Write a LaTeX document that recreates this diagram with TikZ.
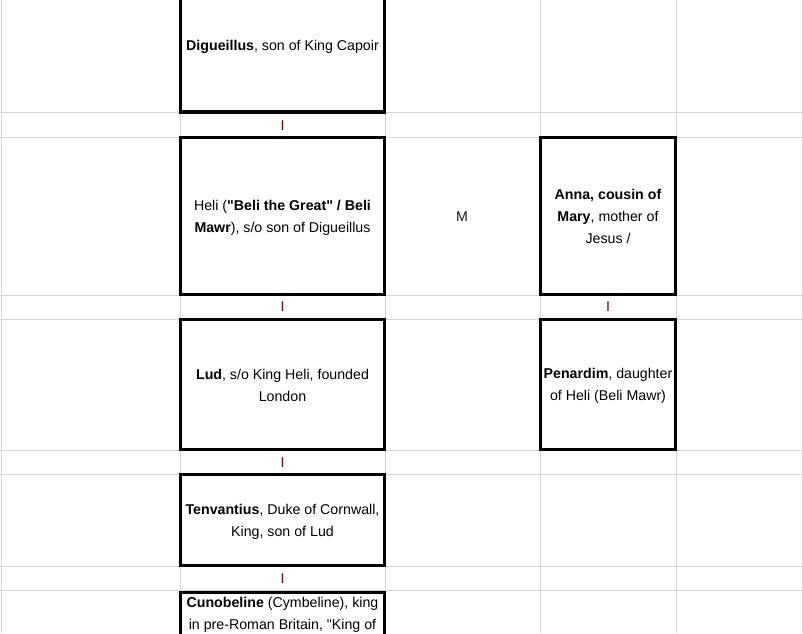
\documentclass[tikz,border=0pt]{standalone}
\usepackage{fontspec}
\setmainfont{Liberation Sans}
\usetikzlibrary{positioning}
\definecolor{gridgray}{RGB}{214,214,214}
\definecolor{barred}{RGB}{110,0,0}
\newcommand{\cellfont}{\fontsize{14.2}{22}\selectfont}
\tikzset{
  person/.style={draw,line width=3.2pt,fill=white,inner sep=0pt},
  wide/.style={minimum width=204pt},
  narrow/.style={minimum width=135pt},
  celltext/.style={align=center,inner sep=0pt,font=\cellfont},
  bar/.style={text=barred,font=\cellfont,inner sep=0pt},
}

\begin{document}
\begin{tikzpicture}[x=1pt,y=-1pt]
\useasboundingbox (0,0) rectangle (803,633);
% sheet grid
\foreach \gx in {1,180,385,540,676,802}
  \draw[gridgray,line width=1pt] (\gx,0) -- (\gx,633);
\foreach \gy in {112,137,295,319,450,474,566,590}
  \draw[gridgray,line width=1pt] (0,\gy) -- (803,\gy);
% left column
\node[person,wide,minimum height=134pt] (digueillus) at (282.5,45) {};
\node[celltext] (digueillus text) at ([yshift=-2pt]digueillus.center) {\textbf{Digueillus}, son of King Capoir};
\node[bar] (bar1) at (282.5,125.5) {I};
\node[person,wide,minimum height=157pt] (heli) at (282.5,216) {};
\node[celltext] (heli text) at ([yshift=-2pt]heli.center) {Heli (\textbf{\textquotedbl Beli the Great\textquotedbl\ / Beli}\\\textbf{Mawr}), s/o son of Digueillus};
\node[bar] (bar2) at (282.5,307) {I};
\node[person,wide,minimum height=130pt] (lud) at (282.5,384.5) {};
\node[celltext] (lud text) at ([yshift=-1pt]lud.center) {\textbf{Lud}, s/o King Heli, founded\\London};
\node[bar] (bar3) at (282.5,462.5) {I};
\node[person,wide,minimum height=91pt] (tenvantius) at (282.5,520) {};
\node[celltext] (tenvantius text) at ([yshift=-2pt]tenvantius.center) {\textbf{Tenvantius}, Duke of Cornwall,\\King, son of Lud};
\node[bar] (bar4) at (282.5,578.5) {I};
\node[person,wide,minimum height=120pt,anchor=north] (cunobeline) at (282.5,590.5) {};
\node[celltext,anchor=north] (cunobeline text) at ([yshift=-6pt]cunobeline.north) {\textbf{Cunobeline} (Cymbeline), king\\in pre-Roman Britain, \textquotedbl King of};
% marriage
\node[celltext,text=black!90] (marriage) at (462,217) {M};
% right column
\node[person,narrow,minimum height=157pt] (anna) at (608,216) {};
\node[celltext] (anna text) at (anna.center) {\textbf{Anna, cousin of}\\\textbf{Mary}, mother of\\Jesus /};
\node[bar] (bar5) at (608,307) {I};
\node[person,narrow,minimum height=130pt] (penardim) at (608,384.5) {};
\node[celltext] (penardim text) at ([yshift=-1pt]penardim.center) {\textbf{Penardim}, daughter\\of Heli (Beli Mawr)};
\end{tikzpicture}
\end{document}
